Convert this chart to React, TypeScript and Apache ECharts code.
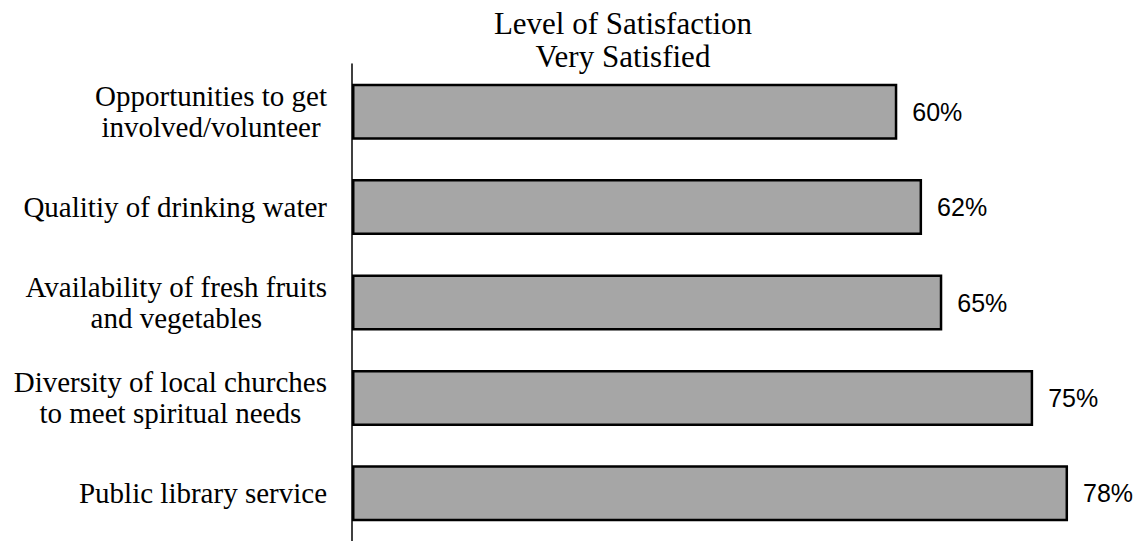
import React, { useEffect, useRef } from "react";
import * as echarts from "echarts";

const categories = [
  "Opportunities to get\ninvolved/volunteer",
  "Qualitiy of drinking water",
  "Availability of fresh fruits\nand vegetables",
  "Diversity of local churches\nto meet spiritual needs",
  "Public library service",
];
const values = [59.4, 62.1, 64.3, 74.2, 78.0];
const valueLabels = ["60%", "62%", "65%", "75%", "78%"];
const titleLines = ["Level of Satisfaction", "Very Satisfied"];

export default function App() {
  const ref = useRef<HTMLDivElement>(null);
  useEffect(() => {
    if (!ref.current) return;
    const chart = echarts.init(ref.current, undefined, { renderer: "svg" });
    chart.setOption({
      animation: false,
      backgroundColor: "#ffffff",
      title: {
        text: titleLines.join("\n"),
        left: 618,
        top: 2,
        textAlign: "center",
        textStyle: {
          fontFamily: "Liberation Serif",
          fontWeight: "normal",
          fontSize: 31,
          lineHeight: 33,
          color: "#000",
        },
      },
      grid: { left: 352, top: 64, width: 734.4, height: 485 },
      xAxis: { type: "value", min: 0, max: 80, show: false },
      yAxis: {
        type: "category",
        inverse: true,
        data: categories,
        axisLine: { show: true, lineStyle: { color: "#000", width: 1.5 } },
        axisTick: { show: false },
        axisLabel: {
          margin: 25,
          align: "right",
          formatter: (v: string) =>
            v
              .split("\n")
              .map((s) => `{c|${s}}`)
              .join("\n"),
          rich: {
            c: {
              align: "center",
              fontFamily: "Liberation Serif",
              fontSize: 29,
              lineHeight: 31,
              color: "#000",
            },
          },
        },
      },
      series: [
        {
          type: "bar",
          data: values,
          barWidth: 56,
          itemStyle: { color: "#a6a6a6", borderColor: "#000", borderWidth: 2.5 },
          label: {
            show: true,
            position: "right",
            distance: 15,
            fontFamily: "Liberation Sans",
            fontSize: 25,
            color: "#000",
            formatter: (p: any) => valueLabels[p.dataIndex],
          },
        },
      ],
    });
    return () => chart.dispose();
  }, []);
  return (
    <div
      ref={ref}
      style={{ position: "fixed", left: 0, top: 0, width: 1138, height: 541 }}
    />
  );
}
